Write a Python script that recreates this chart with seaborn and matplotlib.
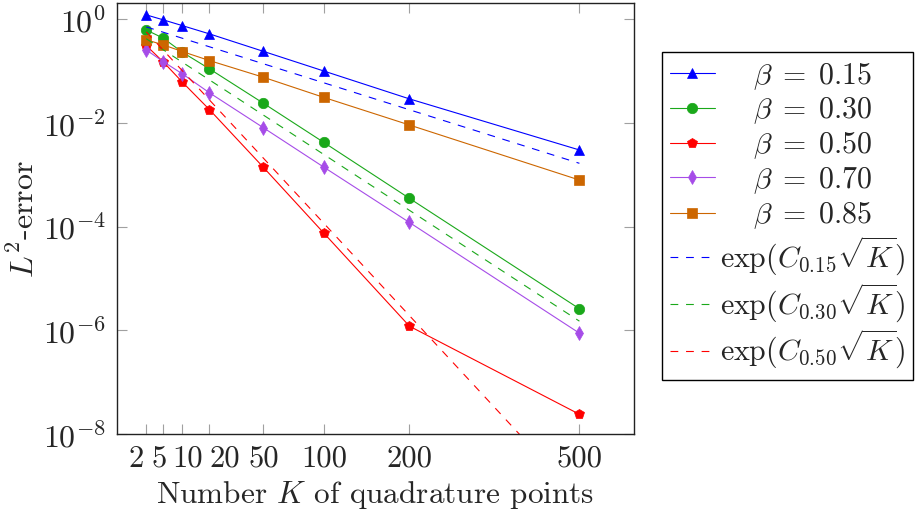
import numpy as np
import seaborn as sns
import matplotlib.pyplot as plt
import matplotlib.transforms as mtransforms
from matplotlib.ticker import NullLocator, LogFormatterSciNotation

# quadrature points and L2 errors
K = [2, 5, 10, 20, 50, 100, 200, 500]
err_015 = [1.21, 0.97, 0.75, 0.52, 0.24, 0.10, 0.029, 0.0030]
err_030 = [0.62, 0.43, 0.23, 0.11, 0.024, 0.0042, 3.5e-4, 2.6e-6]
err_050 = [0.31, 0.15, 0.061, 0.018, 1.4e-3, 7.5e-5, 1.2e-6, 2.4e-8]
err_070 = [0.255, 0.152, 0.088, 0.038, 8.1e-3, 1.4e-3, 1.2e-4, 8.8e-7]
err_085 = [0.40, 0.32, 0.237, 0.159, 0.076, 0.031, 9.1e-3, 7.9e-4]

# reference curves exp(C sqrt(K)), endpoints
ref_K = [2, 500]
ref_015 = [0.71, 1.66e-3]
ref_030 = [0.42, 1.5e-6]
ref_050 = [0.57, 5.6e-10]

xticks = [2, 5, 10, 20, 50, 100, 200, 500]
yticks = [1e-8, 1e-6, 1e-4, 1e-2, 1e0]

sns.set_style('ticks')
plt.rcParams['font.family'] = 'cmr10'
plt.rcParams['mathtext.fontset'] = 'cm'
plt.rcParams['axes.formatter.use_mathtext'] = True
plt.rcParams['axes.unicode_minus'] = False

blue = '#0000ff'
green = '#1aa81a'
red = '#ff0000'
purple = '#a64ce8'
orange = '#cc6600'

fig = plt.figure(figsize=(9.18, 5.18), dpi=100)
ax = fig.add_axes([117 / 918, 1 - 434 / 518, (634 - 117) / 918, (434 - 3) / 518])

pre = r'\quad\;'
series = [
    (err_015, blue, '^', 7.5, '0.15'),
    (err_030, green, 'o', 7.5, '0.30'),
    (err_050, red, 'p', 7.5, '0.50'),
    (err_070, purple, 'd', 7, '0.70'),
    (err_085, orange, 's', 7.5, '0.85'),
]
for vals, c, m, ms, b in series:
    sns.lineplot(x=K, y=vals, ax=ax, color=c, marker=m, markersize=ms,
                 markeredgecolor=c, markeredgewidth=0.5, lw=0.8,
                 label=r'$' + pre + r'\beta\;=\;' + b + '$')

refs = [
    (ref_015, blue, '0.15'),
    (ref_030, green, '0.30'),
    (ref_050, red, '0.50'),
]
for vals, c, b in refs:
    sns.lineplot(x=ref_K, y=vals, ax=ax, color=c, lw=0.8,
                 linestyle=(0, (7, 7)),
                 label=r'$\exp(C_{' + b + r'}\sqrt{K})$')

ax.set_xscale('function', functions=(lambda v: np.sqrt(np.clip(v, 0, None)),
                                     lambda v: np.asarray(v) ** 2))
ax.set_yscale('log')
ax.set_xlim(0, 625)
ax.set_ylim(1e-8, 2.05)
ax.set_xticks(xticks, [str(t) for t in xticks])
ax.set_yticks(yticks)
ax.yaxis.set_major_formatter(LogFormatterSciNotation())
ax.yaxis.set_minor_locator(NullLocator())
ax.xaxis.set_minor_locator(NullLocator())

ax.tick_params(which='both', direction='in', top=True, right=True,
               length=7, width=0.8, color='#a0a0a0', pad=8)
ax.tick_params(axis='x', labelsize=22)
ax.tick_params(axis='y', labelsize=23)

# spread the crowded small-K labels like the original
shift_px = [-10, -4, 5, 15, 1, 0, 0, 0]
for lab, dx in zip(ax.get_xticklabels(), shift_px):
    lab.set_transform(lab.get_transform() +
                      mtransforms.ScaledTranslation(dx / 100, 0, fig.dpi_scale_trans))

for s in ax.spines.values():
    s.set_color('#222222')
    s.set_linewidth(1.0)

ax.set_xlabel(r'Number $K$ of quadrature points', fontsize=22.5, labelpad=5)
ax.set_ylabel(r'$L^2$-error', fontsize=23, labelpad=2)

leg = ax.legend(loc='upper left', bbox_to_anchor=(662 / 918, 1 - 52 / 518),
                bbox_transform=fig.transFigure, fontsize=21.5, frameon=True,
                fancybox=False, edgecolor='black', framealpha=1,
                handlelength=1.5, handletextpad=0.17, borderpad=0.27,
                labelspacing=0.12, borderaxespad=0)
leg.get_frame().set_linewidth(1.0)

plt.savefig('out.png', dpi=100)
